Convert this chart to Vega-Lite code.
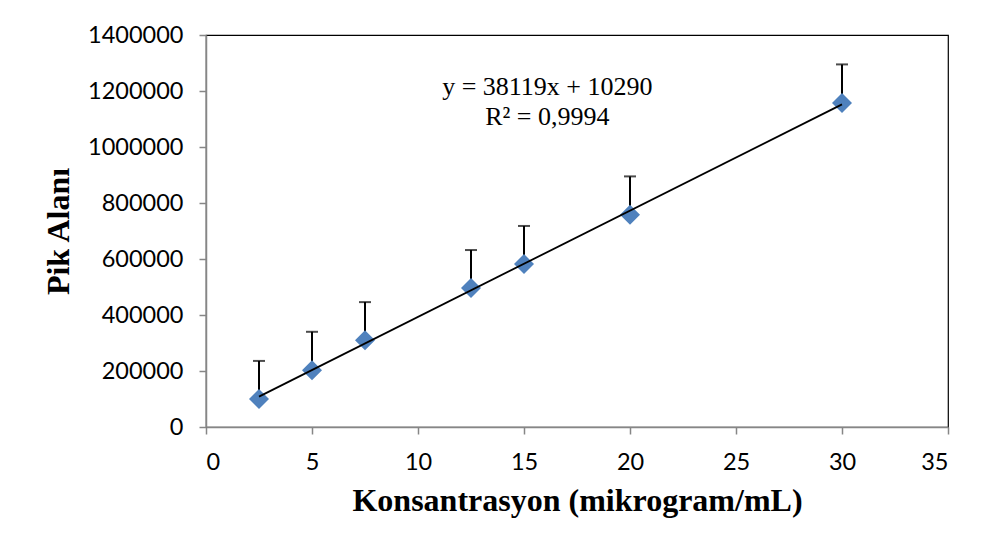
{
  "$schema": "https://vega.github.io/schema/vega-lite/v6.json",
  "autosize": {"type": "none"},
  "width": 742,
  "height": 392,
  "padding": {"left": 206, "top": 35, "right": 39, "bottom": 126},
  "background": "white",
  "config": {
    "view": {"stroke": "black", "strokeWidth": 1.2},
    "axis": {
      "grid": false,
      "domainColor": "#868686",
      "domainWidth": 1.5,
      "tickColor": "#868686",
      "tickWidth": 1.5,
      "tickSize": 7,
      "labelFont": "Lato",
      "labelFontSize": 23.5,
      "labelColor": "black",
      "labelPadding": 16,
      "titleFont": "Liberation Serif",
      "titleFontSize": 32,
      "titleFontWeight": "bold",
      "titleColor": "black"
    }
  },
  "data": {
    "values": [
      {"konsantrasyon": 2.5, "alan": 100000, "ust": 236000},
      {"konsantrasyon": 5, "alan": 203000, "ust": 340000},
      {"konsantrasyon": 7.5, "alan": 310000, "ust": 446000},
      {"konsantrasyon": 12.5, "alan": 496000, "ust": 632000},
      {"konsantrasyon": 15, "alan": 582000, "ust": 718000},
      {"konsantrasyon": 20, "alan": 758000, "ust": 895000},
      {"konsantrasyon": 30, "alan": 1157000, "ust": 1295000}
    ]
  },
  "layer": [
    {
      "mark": {"type": "rule", "color": "black", "strokeWidth": 2},
      "encoding": {
        "x": {"field": "konsantrasyon", "type": "quantitative", "scale": {"domain": [0, 35], "nice": false},
          "axis": {"values": [0, 5, 10, 15, 20, 25, 30, 35], "title": "Konsantrasyon (mikrogram/mL)", "titlePadding": 12}},
        "y": {"field": "alan", "type": "quantitative", "scale": {"domain": [0, 1400000], "nice": false},
          "axis": {"values": [0, 200000, 400000, 600000, 800000, 1000000, 1200000, 1400000], "format": "d", "title": "Pik Alanı", "titlePadding": 12}},
        "y2": {"field": "ust"}
      }
    },
    {
      "mark": {"type": "tick", "orient": "horizontal", "color": "black", "size": 12, "thickness": 2},
      "encoding": {
        "x": {"field": "konsantrasyon", "type": "quantitative"},
        "y": {"field": "ust", "type": "quantitative"}
      }
    },
    {
      "mark": {"type": "point", "shape": "diamond", "filled": true, "color": "#4F81BD", "opacity": 1, "size": 400},
      "encoding": {
        "x": {"field": "konsantrasyon", "type": "quantitative"},
        "y": {"field": "alan", "type": "quantitative"}
      }
    },
    {
      "transform": [{"regression": "alan", "on": "konsantrasyon", "method": "linear"}],
      "mark": {"type": "line", "color": "black", "strokeWidth": 1.8},
      "encoding": {
        "x": {"field": "konsantrasyon", "type": "quantitative"},
        "y": {"field": "alan", "type": "quantitative"}
      }
    },
    {
      "data": {"values": [{"etiket": "denklem"}]},
      "mark": {"type": "text", "font": "Liberation Serif", "fontSize": 26, "fontWeight": "normal", "align": "center", "baseline": "alphabetic", "lineHeight": 30, "color": "black",
        "text": ["y = 38119x + 10290", "R² = 0,9994"]},
      "encoding": {
        "x": {"datum": 16.1, "type": "quantitative"},
        "y": {"datum": 1185700, "type": "quantitative"}
      }
    }
  ]
}
